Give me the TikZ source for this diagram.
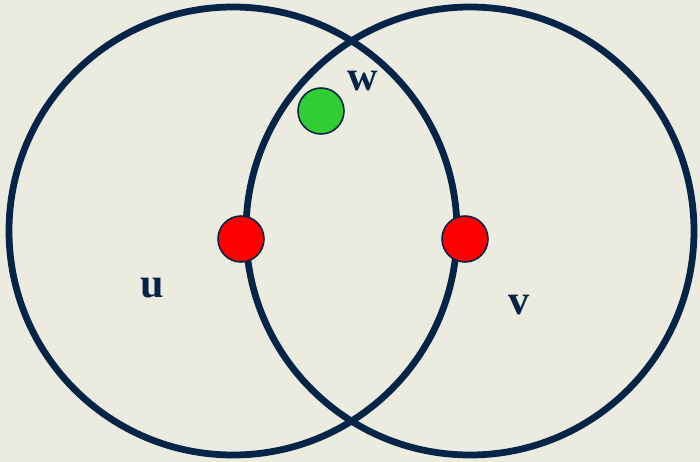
\documentclass[tikz,border=0pt]{standalone}
\usepackage{fontspec}
\setmainfont{Liberation Serif}
\usetikzlibrary{positioning}
\definecolor{navy}{RGB}{4,36,72}
\definecolor{paper}{RGB}{236,235,223}
\definecolor{dotred}{RGB}{255,0,0}
\definecolor{dotgreen}{RGB}{50,205,50}

\begin{document}
\begin{tikzpicture}[x=0.02cm,y=-0.02cm,
  vtx/.style={circle,draw=navy,line width=0.9pt,minimum size=0.92cm,inner sep=0pt},
  lbl/.style={text=navy,font=\fontsize{24}{28}\selectfont\bfseries,inner sep=0pt}]
  \fill[paper] (0,0) rectangle (700,462);
  \useasboundingbox (0,0) rectangle (700,462);
  % the two neighbourhoods
  \draw[navy,line width=0.135cm] (233,231) circle[radius=224];
  \draw[navy,line width=0.135cm] (470,231) circle[radius=224];
  % vertices
  \node[vtx,fill=dotred] (p) at (241,239) {};
  \node[vtx,fill=dotred] (q) at (465,239) {};
  \node[vtx,fill=dotgreen] (w) at (321,111) {};
  \node[lbl] (lw) at (363,81) {w};
  \node[lbl] (lu) at (152,288) {u};
  \node[lbl] (lv) at (519,305) {v};
\end{tikzpicture}
\end{document}
